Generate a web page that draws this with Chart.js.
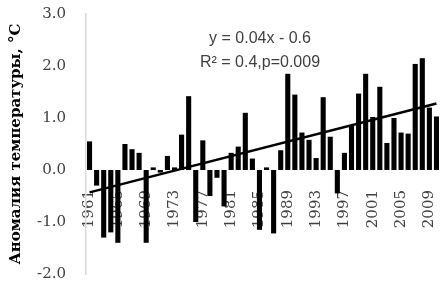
<!DOCTYPE html>
<html>
<head>
<meta charset="utf-8">
<script src="https://cdn.jsdelivr.net/npm/chart.js@4/dist/chart.umd.min.js"></script>
<style>
  html, body { margin: 0; padding: 0; background: #fff; overflow: hidden; }
  #wrap { width: 440px; height: 283px; position: relative; }
</style>
</head>
<body>
<div id="wrap"><canvas id="c" width="440" height="283"></canvas></div>
<script>
const years = [1961,1962,1963,1964,1965,1966,1967,1968,1969,1970,
               1971,1972,1973,1974,1975,1976,1977,1978,1979,1980,
               1981,1982,1983,1984,1985,1986,1987,1988,1989,1990,
               1991,1992,1993,1994,1995,1996,1997,1998,1999,2000,
               2001,2002,2003,2004,2005,2006,2007,2008,2009,2010];
const anomalies = [0.55,-0.30,-1.30,-1.20,-1.40,0.50,0.40,0.33,-1.40,0.05,
                   -0.05,0.27,0.05,0.68,1.42,-1.00,0.57,-0.50,-0.15,-0.70,
                   0.33,0.45,1.10,0.22,-1.15,0.05,-1.22,0.38,1.85,1.45,
                   0.72,0.58,0.23,1.40,0.64,-0.45,0.33,0.85,1.47,1.85,
                   1.02,1.60,0.52,1.00,0.72,0.70,2.04,2.15,1.20,1.03];
// trend line end points (first year, last year)
const trendEnds = [-0.43, 1.28];
const yTicks = [-2, -1, 0, 1, 2, 3];
const labelYears = [1961,1965,1969,1973,1977,1981,1985,1989,1993,1997,2001,2005,2009];
const equationLines = ['y = 0.04x - 0.6', 'R\u00B2 = 0.4,p=0.009'];
const yTitle = 'Аномалия температуры, °C';

const trendData = years.map((y, i) => i === 0 ? trendEnds[0] : (i === years.length - 1 ? trendEnds[1] : null));

const equationPlugin = {
  id: 'equation',
  afterDraw(chart) {
    const ctx = chart.ctx;
    ctx.save();
    ctx.fillStyle = '#404040';
    ctx.font = '16px "Liberation Sans", Arial, sans-serif';
    ctx.textAlign = 'center';
    ctx.textBaseline = 'middle';
    ctx.fillText(equationLines[0], 260, 39);
    ctx.fillText(equationLines[1], 260, 63);
    ctx.restore();
  }
};

new Chart(document.getElementById('c'), {
  data: {
    labels: years.map(String),
    datasets: [
      {
        type: 'line',
        data: trendData,
        spanGaps: true,
        borderColor: '#000',
        borderWidth: 2.5,
        pointRadius: 0,
        order: 0
      },
      {
        type: 'bar',
        data: anomalies,
        backgroundColor: '#000',
        borderWidth: 0,
        barPercentage: 0.72,
        categoryPercentage: 1.0,
        order: 1
      }
    ]
  },
  options: {
    responsive: false,
    animation: false,
    devicePixelRatio: 1,
    layout: { autoPadding: false, padding: { left: 0, right: 0, top: 14, bottom: 9 } },
    plugins: { legend: { display: false }, tooltip: { enabled: false } },
    scales: {
      x: {
        position: { y: 0 },
        grid: { display: false, drawTicks: false },
        border: { display: false },
        afterFit(scale) {
          scale.height = 0;
          scale.paddingLeft = 0; scale.paddingRight = 0;
          scale.paddingTop = 0; scale.paddingBottom = 0;
        },
        ticks: {
          autoSkip: false,
          minRotation: 90,
          maxRotation: 90,
          padding: 20,
          color: '#404040',
          font: { family: '"DejaVu Serif", serif', size: 15 },
          callback(value, index) {
            const yr = years[index];
            return labelYears.includes(yr) ? String(yr) : '';
          }
        }
      },
      y: {
        min: -2,
        max: 3,
        afterFit(scale) {
          scale.width = 86;
          scale.paddingTop = 0; scale.paddingBottom = 0;
          scale.paddingLeft = 0; scale.paddingRight = 0;
        },
        afterBuildTicks(scale) { scale.ticks = yTicks.map(v => ({ value: v })); },
        grid: { display: false, drawTicks: false },
        border: { display: true, color: '#d9d9d9', width: 1.5 },
        ticks: {
          padding: 20,
          color: '#404040',
          font: { family: '"DejaVu Serif", serif', size: 15 },
          callback(v) { return Number(v).toFixed(1); }
        },
        title: {
          display: true,
          text: yTitle,
          color: '#000',
          padding: { top: 7, bottom: 0 },
          font: { family: '"DejaVu Serif", serif', size: 15, weight: 'bold' }
        }
      }
    }
  },
  plugins: [equationPlugin]
});
</script>
</body>
</html>
